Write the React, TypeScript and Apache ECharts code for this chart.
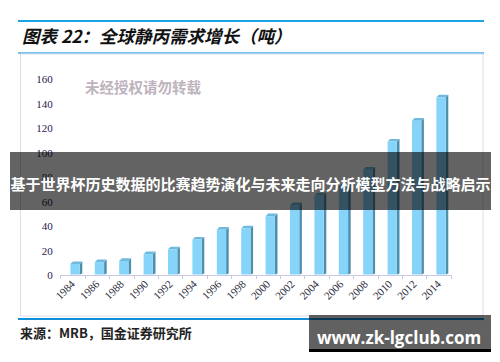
import React, { useEffect, useRef } from "react";
import * as echarts from "echarts";

const years = ["1984", "1986", "1988", "1990", "1992", "1994", "1996", "1998", "2000", "2002", "2004", "2006", "2008", "2010", "2012", "2014"];
const demand = [9, 10.5, 11.5, 17, 21, 29, 37, 38, 48, 57, 65, 72, 86, 109, 126, 145];
const yTicks = { min: 0, max: 160, interval: 20 };

const titleText = "图表 22：全球静丙需求增长（吨）";
const watermark = "未经授权请勿转载";
const bannerText = "基于世界杯历史数据的比赛趋势演化与未来走向分析模型方法与战略启示";
const sourceText = "来源：MRB，国金证券研究所";
const siteText = "www.zk-lgclub.com";

export default function App() {
  const ref = useRef<HTMLDivElement>(null);
  useEffect(() => {
    if (!ref.current) return;
    const chart = echarts.init(ref.current, undefined, { renderer: "svg" });
    const serif = "'Liberation Serif', 'DejaVu Serif', serif";
    const cjk = "'Noto Sans CJK SC', sans-serif";
    chart.setOption({
      animation: false,
      backgroundColor: "#ffffff",
      grid: { left: 60.7, width: 390.4, top: 79, height: 196 },
      xAxis: {
        type: "category",
        data: years,
        boundaryGap: true,
        axisLine: { lineStyle: { color: "#c9c9e6", width: 1 } },
        axisTick: { show: true, length: 4, lineStyle: { color: "#c9c9e6" } },
        axisLabel: { rotate: 45, fontFamily: serif, fontSize: 11, color: "#2a2a3a", margin: 7 },
      },
      yAxis: {
        type: "value",
        min: yTicks.min,
        max: yTicks.max,
        interval: yTicks.interval,
        axisLine: { show: false },
        axisTick: { show: false },
        splitLine: { show: false },
        axisLabel: { fontFamily: serif, fontSize: 11, color: "#1f2050", margin: 8 },
      },
      series: [
        {
          type: "custom",
          data: demand.map((v, i) => [i, v]),
          encode: { x: 0, y: 1 },
          renderItem: (params: any, api: any) => {
            const idx = api.value(0);
            const val = api.value(1);
            const top = api.coord([idx, val]);
            const base = api.coord([idx, 0]);
            const cx = top[0];
            const L = cx - 2.5;
            const R = cx + 6.8;
            const d = 2.6;
            const yt = top[1];
            const yb = base[1] - 0.5;
            return {
              type: "group",
              children: [
                {
                  type: "polygon",
                  shape: { points: [[R, yt], [R + d, yt - d], [R + d, yb - 1], [R, yb]] },
                  style: { fill: "#4f8fae" },
                },
                {
                  type: "polygon",
                  shape: { points: [[L, yt], [L + d, yt - d], [R + d, yt - d], [R, yt]] },
                  style: { fill: "#6fb9dc" },
                },
                {
                  type: "rect",
                  shape: { x: L, y: yt, width: R - L, height: yb - yt },
                  style: { fill: "#87d4fa" },
                },
              ],
            };
          },
        },
      ],
      graphic: [
        { type: "line", shape: { x1: 18, y1: 21, x2: 484, y2: 21 }, style: { stroke: "#1ba3e6", lineWidth: 2 } },
        { type: "line", shape: { x1: 18, y1: 53, x2: 484, y2: 53 }, style: { stroke: "#45ade3", lineWidth: 1.5 } },
        { type: "rect", shape: { x: 20.5, y: 54, width: 462.5, height: 262 }, style: { fill: "none", stroke: "#dcdcec", lineWidth: 1 } },
        { type: "line", shape: { x1: 18, y1: 319, x2: 484, y2: 319 }, style: { stroke: "#0f8fd8", lineWidth: 2 } },
        {
          type: "text",
          x: 22,
          y: 35,
          style: { text: titleText, fontFamily: cjk, fontSize: 17.5, fontWeight: "bold", fontStyle: "italic", fill: "#111111", verticalAlign: "middle" },
        },
        {
          type: "text",
          x: 85,
          y: 86,
          style: { text: watermark, fontFamily: cjk, fontSize: 14.5, fontWeight: "bold", fill: "#bdb3bd", verticalAlign: "middle" },
        },
        {
          type: "text",
          x: 20,
          y: 332,
          style: { text: sourceText, fontFamily: cjk, fontSize: 13, fontWeight: "bold", fill: "#222222", verticalAlign: "middle" },
        },
        { type: "rect", z: 100, shape: { x: 10, y: 152, width: 481, height: 58 }, style: { fill: "rgba(0,0,0,0.61)" } },
        {
          type: "text",
          z: 101,
          x: 250.5,
          y: 183,
          style: { text: bannerText, fontFamily: cjk, fontSize: 15, fontWeight: "bold", fill: "#ffffff", align: "center", verticalAlign: "middle" },
        },
        { type: "rect", z: 100, shape: { x: 309, y: 315, width: 182, height: 34 }, style: { fill: "rgba(0,0,0,0.62)" } },
        { type: "rect", z: 100, shape: { x: 309, y: 349, width: 182, height: 3 }, style: { fill: "#000000" } },
        {
          type: "text",
          z: 101,
          x: 399,
          y: 337,
          style: { text: siteText, fontFamily: "'Open Sans', 'DejaVu Sans', sans-serif", fontSize: 17, fontWeight: "bold", fill: "#ffffff", align: "center", verticalAlign: "middle" },
        },
      ],
    });
    return () => chart.dispose();
  }, []);
  return <div ref={ref} style={{ position: "fixed", left: 0, top: 0, width: 500, height: 362 }} />;
}
